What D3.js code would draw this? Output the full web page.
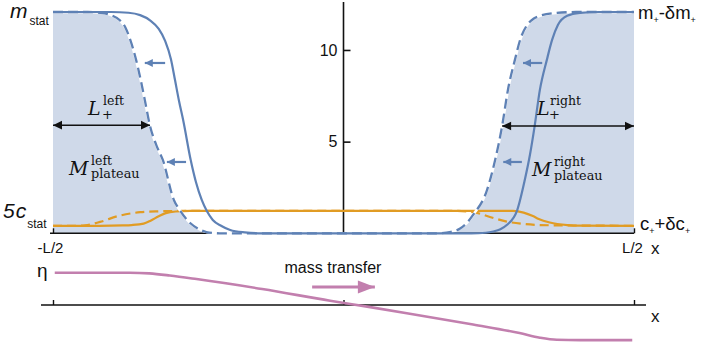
<!DOCTYPE html>
<html>
<head>
<meta charset="utf-8">
<script src="https://cdn.jsdelivr.net/npm/d3@7"></script>
<style>
  html, body { margin: 0; padding: 0; background: #fff; }
  svg { display: block; }
  text { font-family: "Liberation Sans", Arial, sans-serif; fill: #111; }
  .math { font-family: "DejaVu Serif", "Liberation Serif", serif; }
</style>
</head>
<body>
<svg id="chart" width="704" height="352"></svg>
<script>
// Profiles along x (in units of L, from -L/2 to L/2)
// m: solid = current, dashed = later; c: concentration (scaled by 5)
const mSolid = [
  [-0.5, 12.07], [-0.40, 12.07], [-0.37, 12.03], [-0.35, 11.9], [-0.333, 11.62], [-0.318, 11.15],
  [-0.307, 10.5], [-0.297, 9.5], [-0.29, 8.36], [-0.283, 7.2], [-0.276, 6.18], [-0.263, 4.0],
  [-0.254, 2.8], [-0.244, 1.82], [-0.235, 1.2], [-0.225, 0.73], [-0.21, 0.4], [-0.195, 0.18],
  [-0.17, 0.05], [-0.14, 0],
  [0.22, 0], [0.245, 0.03], [0.258, 0.1], [0.27, 0.22], [0.281, 0.45], [0.299, 1.27], [0.312, 2.91],
  [0.321, 4.3], [0.329, 5.85], [0.338, 7.82], [0.35, 9.46], [0.359, 10.55], [0.369, 11.36],
  [0.385, 11.86], [0.407, 12.02], [0.44, 12.07], [0.5, 12.07]
];
const mDashed = [
  [-0.5, 12.07], [-0.44, 12.07], [-0.419, 12.03], [-0.40, 11.9], [-0.385, 11.62], [-0.375, 11.2],
  [-0.367, 10.55], [-0.357, 9.46], [-0.349, 8.36], [-0.342, 7.27], [-0.333, 5.85], [-0.322, 4.8],
  [-0.311, 4.0], [-0.292, 1.82], [-0.282, 1.27], [-0.264, 0.56], [-0.25, 0.25], [-0.236, 0.07],
  [-0.213, 0],
  [0.16, 0], [0.185, 0.08], [0.2, 0.25], [0.212, 0.55], [0.223, 1.0], [0.247, 2.36], [0.261, 4.0],
  [0.273, 5.85], [0.283, 7.82], [0.295, 9.46], [0.304, 10.55], [0.316, 11.36], [0.327, 11.7],
  [0.338, 11.86], [0.367, 12.02], [0.4, 12.07], [0.5, 12.07]
];
const cSolid = [
  [-0.5, 0.41], [-0.42, 0.41], [-0.38, 0.43], [-0.365, 0.45], [-0.344, 0.53], [-0.332, 0.69],
  [-0.318, 0.93], [-0.306, 1.1], [-0.289, 1.19], [-0.264, 1.22],
  [0.292, 1.22], [0.31, 1.13], [0.326, 0.94], [0.336, 0.78], [0.355, 0.59], [0.385, 0.45],
  [0.407, 0.42], [0.5, 0.41]
];
const cDashed = [
  [-0.5, 0.41], [-0.46, 0.41], [-0.445, 0.43], [-0.419, 0.62], [-0.388, 0.94], [-0.367, 1.08],
  [-0.35, 1.15], [-0.316, 1.2], [-0.281, 1.22],
  [0.192, 1.22], [0.223, 1.16], [0.252, 0.89], [0.281, 0.64], [0.309, 0.51], [0.338, 0.45],
  [0.385, 0.43], [0.5, 0.41]
];
// chemical potential profile eta(x), lower panel
const eta = [
  [-0.497, 0.91], [-0.368, 0.91], [-0.334, 0.89], [-0.299, 0.83], [-0.253, 0.73], [-0.14, 0.45],
  [-0.023, 0.12], [0.046, -0.06], [0.109, -0.23], [0.223, -0.55], [0.303, -0.79], [0.338, -0.92],
  [0.367, -0.98], [0.407, -0.99], [0.497, -0.99]
];
const yTicks = [5, 10];
const xTickValues = [-0.5, 0.5];
const xTickLabels = ["-L/2", "L/2"];
const etaTicks = [-0.5, 0, 0.5];

const C = { blue: "#5e81b5", shade: "#cfd9e9", orange: "#e19c24", pink: "#c27fae", axis: "#111" };

const svg = d3.select("#chart");
const x = d3.scaleLinear().domain([-0.5, 0.5]).range([53, 634]);
const y = d3.scaleLinear().domain([0, 12]).range([233.3, 13.3]);
const yEta = d3.scaleLinear().domain([-1, 1]).range([340.5, 269.5]);

const line = d3.line().x(d => x(d[0])).y(d => y(d[1])).curve(d3.curveMonotoneX);
const etaLine = d3.line().x(d => x(d[0])).y(d => yEta(d[1])).curve(d3.curveMonotoneX);

// plateau shading under the dashed profile
const area = d3.area().x(d => x(d[0])).y0(y(0)).y1(d => y(d[1])).curve(d3.curveMonotoneX);
svg.append("path").datum(mDashed.filter(d => d[0] <= -0.2)).attr("d", area).attr("fill", C.shade);
svg.append("path").datum(mDashed.filter(d => d[0] >= 0.15)).attr("d", area).attr("fill", C.shade);

// axes (upper panel)
svg.append("line").attr("x1", 50).attr("x2", x(0.5)).attr("y1", y(0)).attr("y2", y(0))
  .attr("stroke", C.axis).attr("stroke-width", 1.6);
svg.append("line").attr("x1", x(0)).attr("x2", x(0)).attr("y1", 2).attr("y2", y(0))
  .attr("stroke", C.axis).attr("stroke-width", 1.6);

const yAxis = svg.append("g").attr("transform", `translate(${x(0)},0)`)
  .call(d3.axisLeft(y).tickValues(yTicks).tickSize(-7).tickPadding(6).tickSizeOuter(0));
yAxis.select(".domain").remove();
yAxis.selectAll("line").attr("stroke", C.axis).attr("stroke-width", 1.6);
yAxis.selectAll("text").attr("font-size", 16).attr("fill", "#111")
  .attr("font-family", "Liberation Sans, Arial, sans-serif");

const xAxis = svg.append("g").attr("transform", `translate(0,${y(0)})`)
  .call(d3.axisBottom(x).tickValues(xTickValues).tickSize(-5).tickPadding(9)
    .tickFormat((d, i) => xTickLabels[i]));
xAxis.select(".domain").remove();
xAxis.selectAll("line").attr("stroke", C.axis).attr("stroke-width", 1.4);
xAxis.selectAll("text").attr("font-size", 15).attr("fill", "#111")
  .attr("font-family", "Liberation Sans, Arial, sans-serif");
xAxis.selectAll(".tick text").attr("dx", (d, i) => i === 0 ? -3 : -2);

// profiles
svg.append("path").datum(cDashed).attr("d", line).attr("fill", "none")
  .attr("stroke", C.orange).attr("stroke-width", 2.2).attr("stroke-dasharray", "9,5");
svg.append("path").datum(cSolid).attr("d", line).attr("fill", "none")
  .attr("stroke", C.orange).attr("stroke-width", 2.2);
svg.append("path").datum(mDashed).attr("d", line).attr("fill", "none")
  .attr("stroke", "#fff").attr("stroke-width", 2.6);
svg.append("path").datum(mDashed).attr("d", line).attr("fill", "none")
  .attr("stroke", C.blue).attr("stroke-width", 2.3).attr("stroke-dasharray", "10,5");
svg.append("path").datum(mSolid).attr("d", line).attr("fill", "none")
  .attr("stroke", C.blue).attr("stroke-width", 2.2);

// arrows
function arrow(g, x1, y1, x2, y2, color, w, hl, hw, both) {
  g.append("line").attr("x1", x1).attr("y1", y1).attr("x2", x2).attr("y2", y2)
    .attr("stroke", color).attr("stroke-width", w);
  const head = (tx, ty, fx, fy) => {
    const a = Math.atan2(ty - fy, tx - fx);
    const bx = tx - hl * Math.cos(a), by = ty - hl * Math.sin(a);
    const nx = -Math.sin(a) * hw, ny = Math.cos(a) * hw;
    g.append("path").attr("d", `M${tx},${ty}L${bx + nx},${by + ny}L${bx - nx},${by - ny}Z`).attr("fill", color);
  };
  head(x2, y2, x1, y1);
  if (both) head(x1, y1, x2, y2);
}
const ann = svg.append("g");
// front displacement arrows
[[-0.307, -0.342, 9.29], [-0.271, -0.304, 3.89], [0.342, 0.309, 9.29], [0.307, 0.275, 3.89]]
  .forEach(([a, b, v]) => arrow(ann, x(a), y(v), x(b), y(v), C.blue, 2.2, 8, 4, false));
// plateau lengths
arrow(ann, x(-0.5), y(5.9), x(-0.333), y(5.9), "#111", 1.5, 9, 4.3, true);
arrow(ann, x(0.273), y(5.85), x(0.5), y(5.85), "#111", 1.5, 9, 4.3, true);

// math labels
function mathLabel(base, bx, by, sup, sx, sy, sub, ux, uy, supSize, subSize) {
  svg.append("text").attr("class", "math").attr("x", bx).attr("y", by)
    .attr("font-size", 19).attr("font-style", "italic").text(base);
  svg.append("text").attr("class", "math").attr("x", sx).attr("y", sy)
    .attr("font-size", supSize).text(sup);
  svg.append("text").attr("class", "math").attr("x", ux).attr("y", uy)
    .attr("font-size", subSize).text(sub);
}
mathLabel("L", 88, 115, "left", 103, 104.5, "+", 102, 119, 12.5, 13);
mathLabel("M", 69, 175, "left", 91, 164.5, "plateau", 91, 178, 12.5, 12.8);
mathLabel("L", 537, 115, "right", 550, 104.5, "+", 549, 119, 12.5, 13);
mathLabel("M", 532, 176, "right", 554, 165.5, "plateau", 554, 179.5, 12.5, 12.8);

// side labels
const mstat = svg.append("text").attr("x", 10).attr("y", 18);
mstat.append("tspan").attr("font-size", 21).attr("font-style", "italic").text("m");
mstat.append("tspan").attr("font-size", 12).attr("dx", 2).attr("dy", 7).text("stat");
const cstat = svg.append("text").attr("x", 3).attr("y", 218);
cstat.append("tspan").attr("font-size", 21).attr("font-style", "italic")
  .attr("letter-spacing", 1).text("5c");
cstat.append("tspan").attr("font-size", 12).attr("dx", 0).attr("dy", 10).text("stat");

const mr = svg.append("text").attr("x", 638).attr("y", 19).attr("font-size", 18.5);
mr.append("tspan").text("m");
mr.append("tspan").attr("font-size", 9).attr("dy", 4).text("+");
mr.append("tspan").attr("dy", -4).text("-δm");
mr.append("tspan").attr("font-size", 9).attr("dy", 4).text("+");
const cr = svg.append("text").attr("x", 640).attr("y", 230).attr("font-size", 18.5);
cr.append("tspan").text("c");
cr.append("tspan").attr("font-size", 9).attr("dy", 4).text("+");
cr.append("tspan").attr("dy", -4).text("+δc");
cr.append("tspan").attr("font-size", 9).attr("dy", 4).text("+");

svg.append("text").attr("x", 651).attr("y", 254).attr("font-size", 17).text("x");

// lower panel: eta(x)
svg.append("line").attr("x1", 41).attr("x2", 646).attr("y1", yEta(0)).attr("y2", yEta(0))
  .attr("stroke", C.axis).attr("stroke-width", 1.6);
const etaAxis = svg.append("g").attr("transform", `translate(0,${yEta(0)})`)
  .call(d3.axisBottom(x).tickValues(etaTicks).tickSize(-5).tickFormat(""));
etaAxis.select(".domain").remove();
etaAxis.selectAll("line").attr("stroke", C.axis).attr("stroke-width", 1.4);

svg.append("path").datum(eta).attr("d", etaLine).attr("fill", "none")
  .attr("stroke", C.pink).attr("stroke-width", 2.6);
arrow(ann, x(-0.054), yEta(0.51), x(0.054), yEta(0.51), C.pink, 3, 17, 6.5, false);

svg.append("text").attr("x", 37).attr("y", 277).attr("font-size", 19).text("η");
svg.append("text").attr("x", 333).attr("y", 273).attr("font-size", 16)
  .attr("text-anchor", "middle").text("mass transfer");
svg.append("text").attr("x", 651).attr("y", 322).attr("font-size", 17).text("x");
</script>
</body>
</html>
